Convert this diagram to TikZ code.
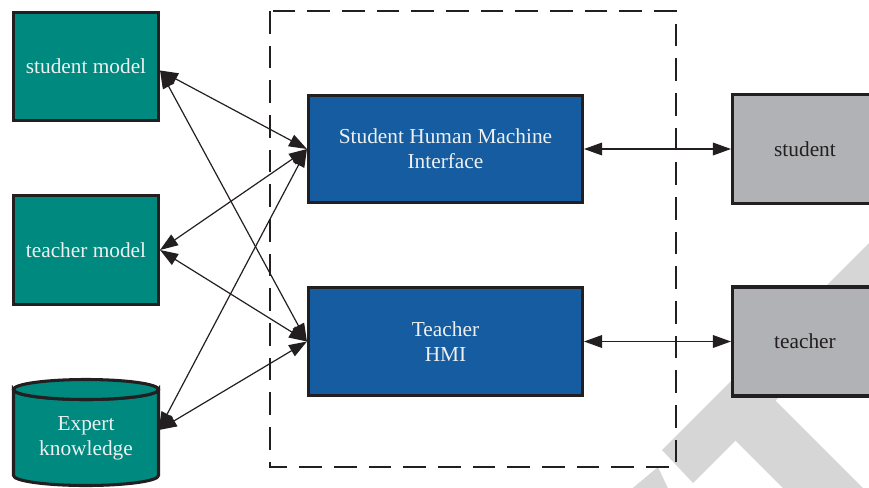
\documentclass[tikz,border=0pt]{standalone}
\usepackage{fontspec}
\setmainfont{Liberation Serif}
\usetikzlibrary{arrows.meta,calc}
\definecolor{tealc}{HTML}{00897F}
\definecolor{bluec}{HTML}{155CA0}
\definecolor{greyc}{HTML}{B1B2B5}
\definecolor{inkc}{HTML}{231F20}
\definecolor{wmark}{HTML}{D6D6D6}
\definecolor{lighttxt}{HTML}{EEF0F0}
\begin{document}
\begin{tikzpicture}[x=0.75pt,y=-0.75pt,
  box/.style={draw=inkc, line width=2.3pt, inner sep=0pt, align=center, font=\fontsize{16}{19}\selectfont},
  modelbox/.style={box, fill=tealc, text=lighttxt, minimum width=108.75pt, minimum height=81.5pt},
  hmibox/.style={box, fill=bluec, text=lighttxt, minimum width=205.5pt, minimum height=80.5pt},
  actorbox/.style={box, fill=greyc, text=inkc, minimum width=108.75pt, minimum height=81.75pt},
  cyl/.style={draw=inkc, line width=2.3pt, fill=tealc},
  txt/.style={align=center, inner sep=0pt, text=lighttxt, font=\fontsize{16}{19}\selectfont},
  link/.style={draw=inkc, line width=0.9pt, {Triangle[length=13.5pt,width=9.5pt]}-{Triangle[length=13.5pt,width=9.5pt]}},
  frame/.style={draw=inkc, line width=1.8pt, dash pattern=on 17pt off 9pt},
  wm/.style={fill=wmark, draw=none}]
\useasboundingbox (0,0) rectangle (869,487);
\clip (0,0) rectangle (869,487);
% watermark
\fill[wm] (662,450) -- (693,483) -- (893,283) -- (902,210) -- cycle;
\fill[wm] (725,430) -- (765,390) -- (900,525) -- (830,535) -- cycle;
\fill[wm] (622,497) -- (658,467) -- (672,497) -- cycle;
% dashed frame
\draw[frame] (270,11) rectangle (676,467);
% left models
\node[modelbox] (sm) at (86,66.5) {student model};
\node[modelbox] (tm) at (86,250) {teacher model};
% cylinder
\path[cyl] (13.5,389.5) -- (13.5,475.5) arc[start angle=180, end angle=0, x radius=72.5, y radius=10] -- (158.5,389.5) arc[start angle=0, end angle=180, x radius=72.5, y radius=10] -- cycle;
\path[cyl] (86,389.5) ellipse [x radius=72.5, y radius=10];
\node[inner sep=0pt, minimum width=108.75pt, minimum height=66pt] (ek) at (86,430) {};
\node[txt] (ekt) at (86,438) {Expert\\knowledge};
% HMIs
\node[hmibox] (shmi) at (445.5,149) {Student Human Machine\\Interface};
\node[hmibox] (thmi) at (445.5,341.5) {Teacher\\HMI};
% actors
\node[actorbox] (st) at (805,149) {student};
\node[actorbox] (te) at (805,341.5) {teacher};
% connectors
\draw[link] ([yshift=-3pt]sm.east) -- (shmi.west);
\draw[link] ([yshift=-3pt]sm.east) -- (thmi.west);
\draw[link] (tm.east) -- (shmi.west);
\draw[link] (tm.east) -- (thmi.west);
\draw[link] (ek.east) -- (shmi.west);
\draw[link] (ek.east) -- (thmi.west);
\draw[link] (shmi.east) -- (st.west);
\draw[link] (thmi.east) -- (te.west);
\end{tikzpicture}
\end{document}
